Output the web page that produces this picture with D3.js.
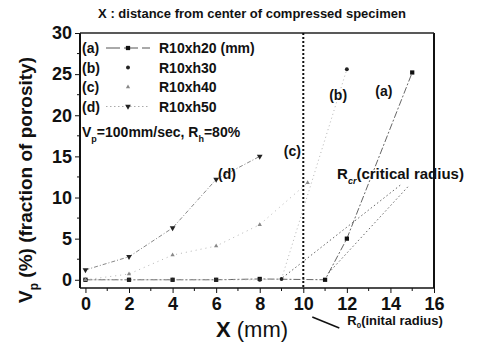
<!DOCTYPE html>
<html>
<head>
<meta charset="utf-8">
<script src="https://cdn.jsdelivr.net/npm/d3@7"></script>
<style>
  body { margin: 0; background: #fff; }
  svg { font-family: "Liberation Sans", Arial, sans-serif; }
  .axis text { font-size: 18px; font-weight: bold; fill: #111; }
  .axis line, .axis path { stroke: #111; }
</style>
</head>
<body>
<svg id="chart"></svg>
<script>
// values
const seriesNames = ["(a)", "(b)", "(c)", "(d)"];
const seriesLabels = ["R10xh20 (mm)", "R10xh30", "R10xh40", "R10xh50"];
const xA = [0, 2, 4, 6, 8, 11, 12, 15];
const yA = [0, 0, 0, 0, 0.1, 0, 5, 25.2];
const xB = [0, 2, 4, 6, 8, 9, 12];
const yB = [0, 0, 0, 0, 0, 0.1, 25.6];
const xC = [0, 2, 4, 6, 8, 10.2];
const yC = [0, 0.7, 3, 4.1, 6.7, 11.8];
const xD = [0, 2, 4, 6, 8];
const yD = [1.2, 2.8, 6.3, 12.2, 15];
const xTicks = [0, 2, 4, 6, 8, 10, 12, 14, 16];
const yTicks = [0, 5, 10, 15, 20, 25, 30];
const initialRadius = 10;
// critical radius leaders: [from x, from y, to x, to y]
const rcrLeaders = [[14.45, 11.5, 9.0, 0.15], [14.8, 11.3, 11.15, 0.8]];

const margin = {top: 33, right: 47, bottom: 57, left: 80};
const W = 481, H = 345;
const width = W - margin.left - margin.right;
const height = H - margin.top - margin.bottom;

const svg = d3.select("#chart").attr("width", W).attr("height", H);
const chart = svg.append("g").attr("transform", `translate(${margin.left},${margin.top})`);

const x = d3.scaleLinear().domain([-0.25, 16]).range([0, width]);
const y = d3.scaleLinear().domain([-1, 30]).range([height, 0]);

// axes
const xAxis = d3.axisBottom(x).tickValues(xTicks).tickSize(5).tickPadding(4);
const yAxis = d3.axisLeft(y).tickValues(yTicks).tickSize(5).tickPadding(3);

chart.append("g").attr("class", "axis")
  .attr("transform", `translate(0,${height})`)
  .call(xAxis)
  .call(g => g.select(".domain").remove());
chart.append("g").attr("class", "axis")
  .call(yAxis)
  .call(g => g.select(".domain").remove());

// minor ticks
chart.append("g").selectAll("line")
  .data(d3.range(1, 16, 2)).join("line")
  .attr("x1", d => x(d)).attr("x2", d => x(d))
  .attr("y1", height).attr("y2", height + 3)
  .attr("stroke", "#111");
chart.append("g").selectAll("line")
  .data(d3.range(2.5, 30, 5)).join("line")
  .attr("x1", 0).attr("x2", -3)
  .attr("y1", d => y(d)).attr("y2", d => y(d))
  .attr("stroke", "#111");

// frame
chart.append("line").attr("x1", 0).attr("x2", 0).attr("y1", 0).attr("y2", height)
  .attr("stroke", "#111").attr("stroke-width", 2);
chart.append("line").attr("x1", 0).attr("x2", width).attr("y1", height).attr("y2", height)
  .attr("stroke", "#111").attr("stroke-width", 1.5);
chart.append("line").attr("x1", width).attr("x2", width).attr("y1", 0).attr("y2", height)
  .attr("stroke", "#111").attr("stroke-width", 2);
chart.append("line").attr("x1", 0).attr("x2", width).attr("y1", 0).attr("y2", 0)
  .attr("stroke", "#222").attr("stroke-width", 1.3);

// initial radius line
chart.append("line")
  .attr("x1", x(initialRadius)).attr("x2", x(initialRadius))
  .attr("y1", 0).attr("y2", height)
  .attr("stroke", "#111").attr("stroke-width", 2)
  .attr("stroke-dasharray", "2,2");

// series
const series = [
  {xs: xA, ys: yA, dash: "7,2,2,2", color: "#666", w: 1, sym: d3.symbolSquare, size: 18, mcolor: "#111"},
  {xs: xB, ys: yB, dash: "1,3", color: "#b5b5b5", w: 1, sym: d3.symbolCircle, size: 12, mcolor: "#222"},
  {xs: xC, ys: yC, dash: "1,4", color: "#b5b5b5", w: 1, sym: d3.symbolTriangle, size: 8, mcolor: "#888"},
  {xs: xD, ys: yD, dash: "4,2,1,2", color: "#888", w: 1, sym: d3.symbolTriangle, size: 14, mcolor: "#222", flip: true}
];

const line = d3.line().x(d => x(d[0])).y(d => y(d[1]));

series.forEach(s => {
  const pts = s.xs.map((v, i) => [v, s.ys[i]]);
  chart.append("path")
    .datum(pts)
    .attr("d", line)
    .attr("fill", "none")
    .attr("stroke", s.color)
    .attr("stroke-width", s.w)
    .attr("stroke-dasharray", s.dash);
  chart.append("g").selectAll("path")
    .data(pts).join("path")
    .attr("d", d3.symbol().type(s.sym).size(s.size))
    .attr("transform", d => `translate(${x(d[0])},${y(d[1])})${s.flip ? " rotate(180)" : ""}`)
    .attr("fill", s.mcolor);
});

// critical radius leaders
chart.append("g").selectAll("line")
  .data(rcrLeaders).join("line")
  .attr("x1", d => x(d[0])).attr("y1", d => y(d[1]))
  .attr("x2", d => x(d[2])).attr("y2", d => y(d[3]))
  .attr("stroke", "#666").attr("stroke-width", 1)
  .attr("stroke-dasharray", "1.5,2.5");

// legend
const legend = chart.append("g").attr("transform", "translate(2,15)");
seriesNames.forEach((n, i) => {
  const s = series[i];
  const row = legend.append("g").attr("transform", `translate(0,${i * 19.5})`);
  row.append("text").attr("x", 0).attr("y", 5).text(n)
    .attr("font-size", 14).attr("font-weight", "bold").attr("fill", "#111");
  if (i === 0 || i === 3) {
    row.append("line").attr("x1", 24).attr("x2", 68).attr("y1", 0).attr("y2", 0)
      .attr("stroke", i === 0 ? "#555" : "#aaa").attr("stroke-width", 1)
      .attr("stroke-dasharray", i === 0 ? "14,4" : "1.5,2.5");
  }
  row.append("path")
    .attr("d", d3.symbol().type(s.sym).size(s.size))
    .attr("transform", `translate(46,0)${s.flip ? " rotate(180)" : ""}`)
    .attr("fill", s.mcolor);
  row.append("text").attr("x", 77).attr("y", 5).text(seriesLabels[i])
    .attr("font-size", 14).attr("font-weight", "bold").attr("fill", "#111");
});

// condition text
const cond = chart.append("text").attr("x", 2).attr("y", 104)
  .attr("font-size", 14).attr("font-weight", "bold").attr("fill", "#111");
cond.append("tspan").text("V");
cond.append("tspan").text("p").attr("font-size", 9).attr("dy", 5);
cond.append("tspan").text("=100mm/sec, R").attr("dy", -5);
cond.append("tspan").text("h").attr("font-size", 9).attr("dy", 5);
cond.append("tspan").text("=80%").attr("dy", -5);

// series labels on the plot
const seriesTags = [["(a)", 13.7, 22.4], ["(b)", 11.6, 21.8], ["(c)", 9.5, 15.1], ["(d)", 6.5, 12.3]];
chart.append("g").selectAll("text")
  .data(seriesTags).join("text")
  .attr("x", d => x(d[1])).attr("y", d => y(d[2]))
  .attr("text-anchor", "middle")
  .attr("font-size", 14).attr("font-weight", "bold").attr("fill", "#111")
  .text(d => d[0]);

// critical radius label
const rcr = chart.append("text").attr("x", x(11.55)).attr("y", y(12.3))
  .attr("font-size", 15).attr("font-weight", "bold").attr("fill", "#111");
rcr.append("tspan").text("R");
rcr.append("tspan").text("cr").attr("font-size", 9).attr("font-style", "italic").attr("dy", 5);
rcr.append("tspan").text("(critical radius)").attr("dy", -5);

// initial radius label under the axis
chart.append("line")
  .attr("x1", x(initialRadius) + 9).attr("y1", height + 29)
  .attr("x2", x(initialRadius) + 36).attr("y2", height + 40)
  .attr("stroke", "#111").attr("stroke-width", 1.5);
const r0 = chart.append("text").attr("x", x(initialRadius) + 44).attr("y", height + 37)
  .attr("font-size", 13).attr("font-weight", "bold").attr("fill", "#111");
r0.append("tspan").text("R");
r0.append("tspan").text("0").attr("font-size", 8).attr("dy", 3);
r0.append("tspan").text("(inital radius)").attr("dy", -3);

// title
svg.append("text").attr("x", 252).attr("y", 18)
  .attr("text-anchor", "middle").attr("font-size", 13).attr("font-weight", "bold")
  .attr("fill", "#111")
  .text("X : distance from center of compressed specimen");

// x axis title
const xt = svg.append("text").attr("x", 252).attr("y", 337)
  .attr("text-anchor", "middle").attr("font-size", 22).attr("fill", "#111");
xt.append("tspan").text("X").attr("font-weight", "bold");
xt.append("tspan").text(" (mm)");

// y axis title
const yt = svg.append("text")
  .attr("transform", "translate(32,180) rotate(-90)")
  .attr("text-anchor", "middle").attr("font-size", 19).attr("font-weight", "bold")
  .attr("fill", "#111");
yt.append("tspan").text("V");
yt.append("tspan").text("p").attr("font-size", 12).attr("dy", 6);
yt.append("tspan").text(" (%) (fraction of porosity)").attr("dy", -6);
</script>
</body>
</html>
